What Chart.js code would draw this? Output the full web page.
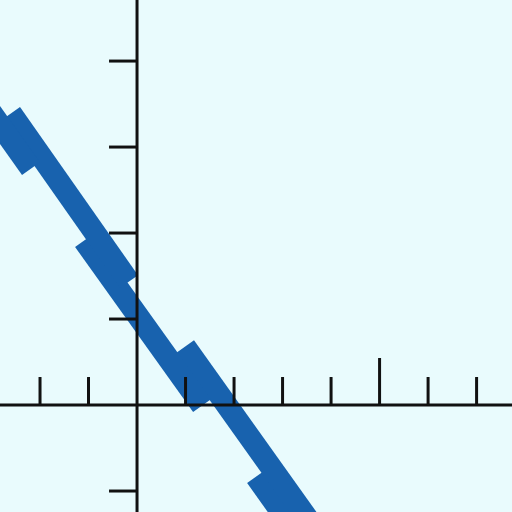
<!DOCTYPE html>
<html><head><meta charset="utf-8">
<script src="https://cdn.jsdelivr.net/npm/chart.js@4/dist/chart.umd.min.js"></script>
<style>html,body{margin:0;padding:0;background:#e9fbfd;}#wrap{width:512px;height:512px;}</style>
</head><body><div id="wrap"><canvas id="c"></canvas></div>
<script>
// Each stroke of the thick line is a separate, slightly offset piece (as drawn in the picture)
const segStartX = [-3.381, -2.598, -1.093, 0.990, 2.454];
const segStartY = [ 3.698,  3.391,  1.912, 0.679, -0.833];
const segEndX   = [-2.186, -0.165,  1.340, 3.979, 3.649];
const segEndY   = [ 2.749,  1.437, -0.007, -1.686, -1.779];
const xTicks = [-2, -1, 1, 2, 3, 4, 5, 6, 7];
const yTicks = [-1, 1, 2, 3, 4];
const xRange = [-2.825, 7.73];
const yRange = [-1.244, 4.71];

const datasets = segStartX.map((sx, i) => ({
  data: [{x: sx, y: segStartY[i]}, {x: segEndX[i], y: segEndY[i]}],
  borderColor: '#1862ae',
  borderWidth: 22,
  borderCapStyle: 'butt',
  pointRadius: 0,
  tension: 0,
  clip: false
}));

const axesPlugin = {
  id: 'axesPlugin',
  beforeDraw(chart) {
    const c = chart.ctx;
    c.save(); c.fillStyle = '#e9fbfd'; c.fillRect(0, 0, chart.width, chart.height); c.restore();
  },
  afterDatasetsDraw(chart) {
    const c = chart.ctx, xs = chart.scales.x, ys = chart.scales.y;
    const x0 = xs.getPixelForValue(0), y0 = ys.getPixelForValue(0);
    c.save();
    c.strokeStyle = '#111'; c.lineWidth = 3; c.lineCap = 'butt';
    c.beginPath(); c.moveTo(0, y0); c.lineTo(chart.width, y0); c.stroke();
    c.beginPath(); c.moveTo(x0, 0); c.lineTo(x0, chart.height); c.stroke();
    xTicks.forEach(v => {
      const px = xs.getPixelForValue(v);
      const len = v === 5 ? 47 : 28;
      c.beginPath(); c.moveTo(px, y0); c.lineTo(px, y0 - len); c.stroke();
    });
    yTicks.forEach(v => {
      const py = ys.getPixelForValue(v);
      c.beginPath(); c.moveTo(x0, py); c.lineTo(x0 - 28, py); c.stroke();
    });
    c.restore();
  }
};

new Chart(document.getElementById('c'), {
  type: 'line',
  data: { datasets: datasets },
  options: {
    responsive: true, maintainAspectRatio: false, animation: false,
    layout: { padding: 0 },
    plugins: { legend: { display: false }, tooltip: { enabled: false } },
    scales: {
      x: { type: 'linear', min: xRange[0], max: xRange[1], display: false },
      y: { type: 'linear', min: yRange[0], max: yRange[1], display: false }
    }
  },
  plugins: [axesPlugin]
});
</script></body></html>
